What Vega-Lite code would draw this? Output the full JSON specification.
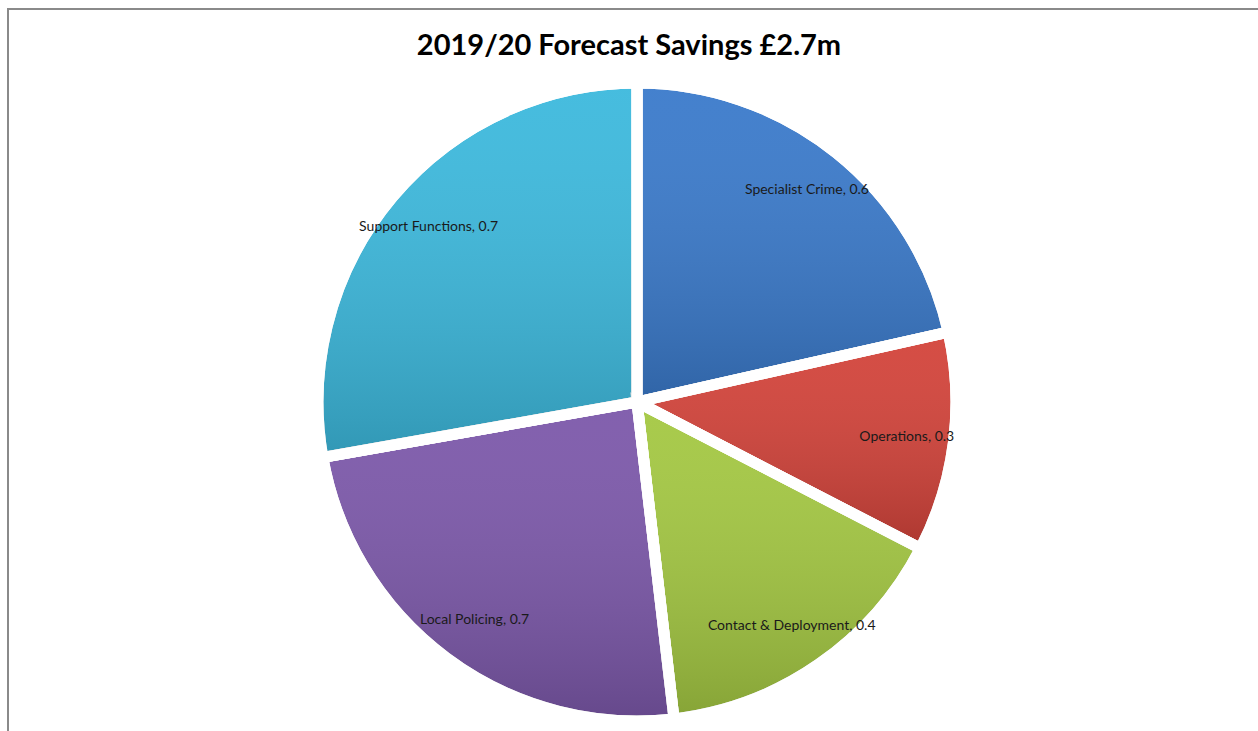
{
  "$schema": "https://vega.github.io/schema/vega-lite/v6.json",
  "autosize": "none",
  "width": 1258,
  "height": 786,
  "padding": {"left": 8, "top": 9, "right": -8, "bottom": -64},
  "background": "white",
  "view": {"stroke": "#8a8a8a", "strokeWidth": 2},
  "config": {
    "view": {"stroke": "#8a8a8a", "strokeWidth": 2},
    "font": "Lato"
  },
  "title": {
    "text": "2019/20 Forecast Savings £2.7m",
    "font": "Lato",
    "fontSize": 29,
    "fontWeight": "bold",
    "color": "#000000",
    "anchor": "middle",
    "offset": -52,
    "dx": -8
  },
  "data": {
    "values": [
      {"i": 1, "name": "Specialist Crime", "value": 0.58, "label": "Specialist Crime, 0.6"},
      {"i": 2, "name": "Operations", "value": 0.30, "label": "Operations, 0.3"},
      {"i": 3, "name": "Contact & Deployment", "value": 0.42, "label": "Contact & Deployment, 0.4"},
      {"i": 4, "name": "Local Policing", "value": 0.65, "label": "Local Policing, 0.7"},
      {"i": 5, "name": "Support Functions", "value": 0.75, "label": "Support Functions, 0.7"}
    ]
  },
  "encoding": {
    "theta": {"field": "value", "type": "quantitative", "stack": true},
    "order": {"field": "i", "type": "quantitative"}
  },
  "layer": [
    {
      "mark": {"type": "arc", "outerRadius": 319, "stroke": "white", "strokeWidth": 11, "strokeJoin": "miter"},
      "encoding": {
        "color": {
          "field": "name",
          "type": "nominal",
          "legend": null,
          "scale": {
            "domain": ["Specialist Crime", "Operations", "Contact & Deployment", "Local Policing", "Support Functions"],
            "range": ["#3A7ACB", "#D3433A", "#A4C842", "#7C58AA", "#3CB9DD"]
          }
        }
      }
    },
    {
      "mark": {
        "type": "arc",
        "outerRadius": 319,
        "stroke": "white",
        "strokeWidth": 11,
        "strokeJoin": "miter",
        "fill": {
          "gradient": "linear",
          "x1": 0, "y1": 0, "x2": 0, "y2": 1,
          "stops": [
            {"offset": 0, "color": "rgba(255,255,255,0.05)"},
            {"offset": 1, "color": "rgba(0,0,0,0.18)"}
          ]
        }
      }
    },
    {
      "mark": {"type": "text", "radius": 272, "fontSize": 14, "font": "Lato", "color": "#1a1a1a"},
      "encoding": {
        "text": {"field": "label", "type": "nominal"}
      }
    }
  ]
}
